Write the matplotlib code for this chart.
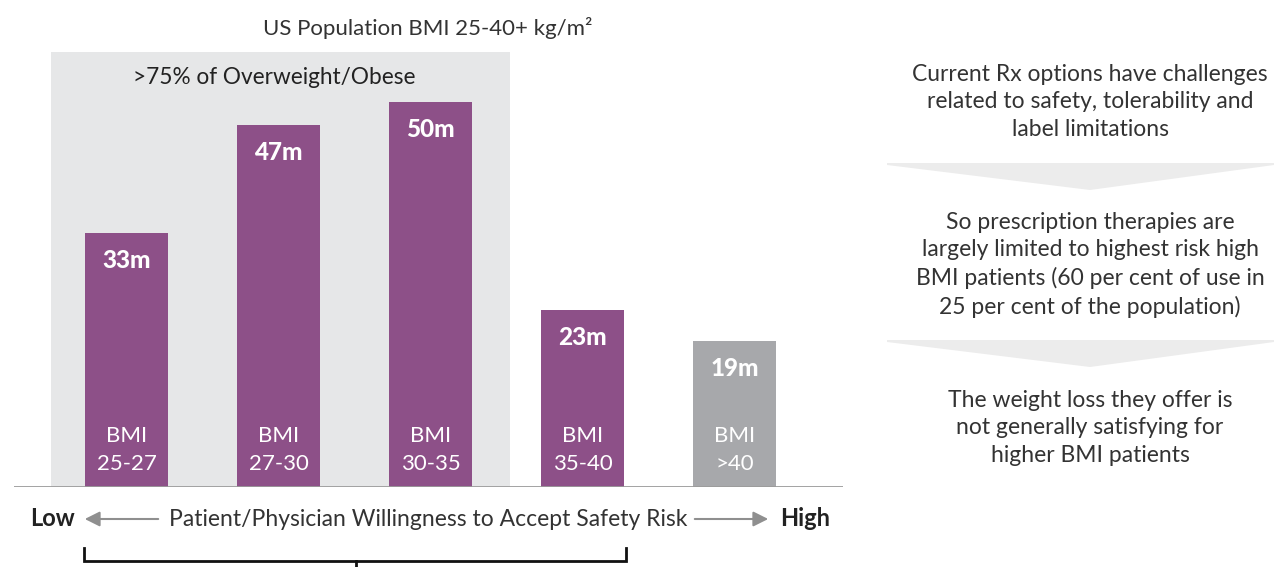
import matplotlib
matplotlib.use("Agg")
import matplotlib.pyplot as plt
from matplotlib.patches import Polygon, FancyArrowPatch

plt.rcParams['font.family'] = ['Lato', 'DejaVu Sans']

# ---- data ----
categories = ["BMI\n25-27", "BMI\n27-30", "BMI\n30-35", "BMI\n35-40", "BMI\n>40"]
values = [33, 47, 50, 23, 19]
value_labels = ["33m", "47m", "50m", "23m", "19m"]
highlighted = [True, True, True, True, False]
title = "US Population BMI 25-40+ kg/m²"
shade_label = ">75% of Overweight/Obese"
axis_text = "Patient/Physician Willingness to Accept Safety Risk"
right_texts = [
    "Current Rx options have challenges\nrelated to safety, tolerability and\nlabel limitations",
    "So prescription therapies are\nlargely limited to highest risk high\nBMI patients (60 per cent of use in\n25 per cent of the population)",
    "The weight loss they offer is\nnot generally satisfying for\nhigher BMI patients",
]

PURPLE = "#8d5088"
GREYBAR = "#a7a8ab"
SHADE = "#e6e7e8"
TXT = "#333333"

W, H = 1274, 567
fig = plt.figure(figsize=(W / 100, H / 100), dpi=100)
fig.patch.set_facecolor("white")

# bar axes: pixel box x 14..843, y 52..487
px_per_unit = 7.7
ax = fig.add_axes([14 / W, (H - 487) / H, (843 - 14) / W, (487 - 52) / H])
ax.set_xlim(-0.740, 4.714)
ax.set_ylim(0, (487 - 52) / px_per_unit)
ax.axis("off")

# shaded region covering first three categories
ax.axvspan(-0.497, 2.523, color=SHADE, zorder=0, lw=0)

xs = list(range(len(values)))
colors = [PURPLE if h else GREYBAR for h in highlighted]
bars = ax.bar(xs, values, width=0.546, color=colors, zorder=2, lw=0)

for x, v, lab, cat in zip(xs, values, value_labels, categories):
    ax.text(x, v - 3.6, lab, ha="center", va="center", color="white",
            fontsize=17.5, fontweight="black", zorder=3)
    ax.text(x, 4.87, cat, ha="center", va="center", color="white",
            fontsize=16, linespacing=1.5, zorder=3)

ax.axhline(0, color="#9b9b9b", lw=2, zorder=4)

# overlay axes in pixel coordinates for annotations
ov = fig.add_axes([0, 0, 1, 1])
ov.set_xlim(0, W)
ov.set_ylim(H, 0)
ov.axis("off")
ov.patch.set_alpha(0)

ov.text(428, 28, title, ha="center", va="center", fontsize=16, color=TXT)
ov.text(274, 77, shade_label, ha="center", va="center", fontsize=16.3, color="#222222")

# bottom axis annotation
ov.text(30, 519, "Low", ha="left", va="center", fontsize=17, fontweight="bold", color="#222222")
ov.text(830, 519, "High", ha="right", va="center", fontsize=17, fontweight="bold", color="#222222")
ov.text(428, 519, axis_text, ha="center", va="center", fontsize=16.5, color=TXT)
ov.add_patch(FancyArrowPatch((161, 519), (82, 519), arrowstyle="-|>,head_length=9,head_width=4.5",
                             color="#8f8f8f", lw=1.5, mutation_scale=1))
ov.add_patch(FancyArrowPatch((692, 519), (771, 519), arrowstyle="-|>,head_length=9,head_width=4.5",
                             color="#8f8f8f", lw=1.5, mutation_scale=1))

# bracket
ov.plot([84, 84, 626, 626], [548, 561, 561, 548], color="#111111", lw=2, solid_joinstyle="miter")
ov.plot([356, 356], [561, 568], color="#111111", lw=2)

# right panel
ov.text(1090, 102, right_texts[0], ha="center", va="center", fontsize=16.5, color=TXT, linespacing=1.36)
ov.text(1090, 265, right_texts[1], ha="center", va="center", fontsize=16.5, color=TXT, linespacing=1.36)
ov.text(1090, 428, right_texts[2], ha="center", va="center", fontsize=16.5, color=TXT, linespacing=1.36)

for top in (163, 340):
    ov.add_patch(Polygon([(887, top), (1274, top), (1274, top + 2), (1090, top + 27), (887, top + 2)],
                         closed=True, facecolor="#ececec", edgecolor="none"))

fig.savefig("out.png", dpi=100, facecolor="white")
